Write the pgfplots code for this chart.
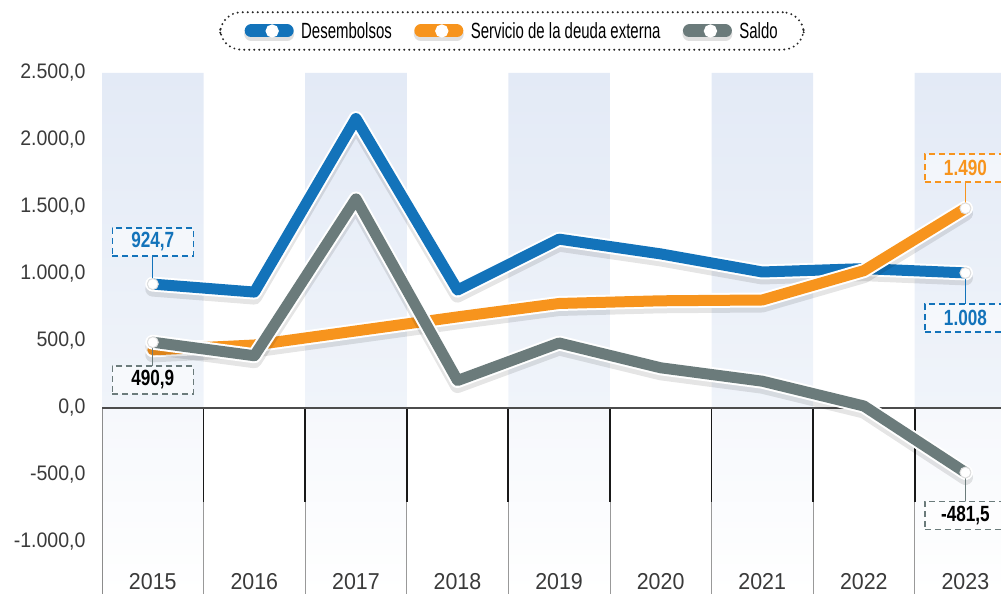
\documentclass[border=0pt]{standalone}
\usepackage{fontspec}
\setmainfont{Liberation Sans}
\newfontfamily\condfont{Liberation Sans}[FakeStretch=0.68]
\newfontfamily\lblfont{Liberation Sans}[FakeStretch=0.78]
\newfontfamily\tickfont{Liberation Sans}[FakeStretch=0.93]
\usepackage{pgfplots}
\usepackage{pgfplotstable}
\pgfplotsset{compat=1.18}

\definecolor{desemb}{HTML}{1373BA}
\definecolor{servicio}{HTML}{F7941D}
\definecolor{saldo}{HTML}{6B7B7B}
\definecolor{bandtop}{HTML}{E3EAF6}
\definecolor{bandbot}{HTML}{F0F4FA}
\definecolor{bandlow}{HTML}{F6F8FC}
\definecolor{ticktext}{HTML}{3A3A3A}

\pgfplotstableread{
anio desemb servicio saldo
2015 924.7 433.8 490.9
2016 865 470 390
2017 2160 575 1560
2018 880 680 205
2019 1260 780 485
2020 1150 800 300
2021 1015 806 200
2022 1040 1025 15
2023 1008 1490 -481.5
}\datos

\pgfplotsset{
  serie/.style={line width=11pt, line join=round, line cap=round, draw=#1,
    preaction={draw=white, line width=15pt}, forget plot},
  sombra/.style={line width=15pt, line join=round, line cap=round, draw=black,
    opacity=0.10, yshift=-5pt, forget plot},
  legimg/.style={legend image code/.code={
    \draw[line width=14pt, line cap=round, black, opacity=0.12] (0pt,-3pt) -- (36pt,-3pt);
    \draw[line width=13pt, line cap=round, #1] (0pt,0pt) -- (36pt,0pt);
    \fill[white] (21pt,0pt) circle (5.5pt);}},
}
\tikzset{
  lbl/.style={draw=#1, dash pattern=on 6pt off 4pt, line width=1.4pt,
    fill=white, fill opacity=0.5, text opacity=1, minimum width=81pt,
    minimum height=28pt, inner sep=0pt,
    font=\lblfont\bfseries\fontsize{22}{22}\selectfont},
}

\begin{document}
\begin{tikzpicture}
\useasboundingbox (0,0) rectangle (1001pt,594pt);
\begin{axis}[
  at={(102pt,0pt)}, anchor=south west,
  scale only axis, width=899pt, height=521pt,
  xmin=2014.5, xmax=2023.35,
  ymin=-1388, ymax=2500,
  axis on top,
  axis line style={draw=none},
  major tick length=0pt,
  xtick={2015,...,2023},
  xticklabels={2015,2016,2017,2018,2019,2020,2021,2022,2023},
  xticklabel style={font=\tickfont\fontsize{23}{23}\selectfont, text=ticktext,
    anchor=south, yshift=1pt},
  ytick={-1000,-500,...,2500},
  yticklabel style={font=\tickfont\fontsize{21}{21}\selectfont, text=ticktext, xshift=-13pt,
    /pgf/number format/.cd, fixed, fixed zerofill, precision=1,
    use comma, 1000 sep={.}, assume math mode=true},
  legend columns=3,
  legend style={at={(0.456,1.0806)}, anchor=center,
    draw=black!85, line width=2.2pt, dash pattern=on 0pt off 5pt,
    line cap=round, rounded corners=21pt,
    inner xsep=24pt, inner ysep=8pt,
    font=\condfont\fontsize{22}{22}\selectfont,
    /tikz/every even column/.append style={column sep=20pt}},
  legend cell align=left,
]
% bandas de fondo
\addplot[ybar, bar width=1, bar shift=0pt, draw=none, top color=bandtop,
  bottom color=bandbot, forget plot]
  coordinates {(2015,2500) (2017,2500) (2019,2500) (2021,2500) (2023,2500)};
\addplot[ybar, bar width=1, bar shift=0pt, draw=none, top color=bandlow,
  bottom color=white, forget plot]
  coordinates {(2015,-1388) (2017,-1388) (2019,-1388) (2021,-1388) (2023,-1388)};

% separadores bajo cero
\draw[black!45, line width=1pt] (axis cs:2014.5,0) -- (axis cs:2014.5,-1388);
\pgfplotsinvokeforeach{2015.5,2016.5,2017.5,2018.5,2019.5,2020.5,2021.5,2022.5}{
  \draw[black!90, line width=1.8pt] (axis cs:#1,0) -- (axis cs:#1,-700);
  \draw[black!40, line width=0.8pt] (axis cs:#1,-700) -- (axis cs:#1,-1388);
}
\draw[black!70, line width=1.8pt] (axis cs:2014.5,0) -- (axis cs:2023.35,0);

% series
\addplot[sombra] table[x=anio, y=desemb] {\datos};
\addplot[serie=desemb] table[x=anio, y=desemb] {\datos};
\addplot[sombra] table[x=anio, y=servicio] {\datos};
\addplot[serie=servicio] table[x=anio, y=servicio] {\datos};
\addplot[sombra] table[x=anio, y=saldo] {\datos};
\addplot[serie=saldo] table[x=anio, y=saldo] {\datos};

% etiquetas
\draw[desemb, line width=1.3pt] (axis cs:2015,924.7) -- (axis cs:2015,1135);
\node[lbl=desemb, text=desemb] at (axis cs:2015,1239) {924,7};
\draw[saldo, line width=1.3pt] (axis cs:2015,490.9) -- (axis cs:2015,310);
\node[lbl=saldo, text=black] at (axis cs:2015,209) {490,9};
\draw[servicio, line width=1.3pt] (axis cs:2023,1490) -- (axis cs:2023,1690);
\node[lbl=servicio, text=servicio] at (axis cs:2023,1791) {1.490};
\draw[desemb, line width=1.3pt] (axis cs:2023,1008) -- (axis cs:2023,775);
\node[lbl=desemb, text=desemb] at (axis cs:2023,672) {1.008};
\draw[saldo, line width=1.3pt] (axis cs:2023,-481.5) -- (axis cs:2023,-700);
\node[lbl=saldo, text=black] at (axis cs:2023,-802) {-481,5};

% puntos extremos
\addplot[only marks, mark=*, mark size=5.5pt,
  mark options={fill=white, draw=black!12, line width=1pt}, forget plot]
  coordinates {(2015,924.7) (2015,490.9) (2023,1490) (2023,1008) (2023,-481.5)};

\addlegendimage{legimg=desemb}
\addlegendentry{\hspace{5pt}Desembolsos}
\addlegendimage{legimg=servicio}
\addlegendentry{\hspace{5pt}Servicio de la deuda externa}
\addlegendimage{legimg=saldo}
\addlegendentry{\hspace{5pt}Saldo}
\end{axis}
\end{tikzpicture}
\end{document}
